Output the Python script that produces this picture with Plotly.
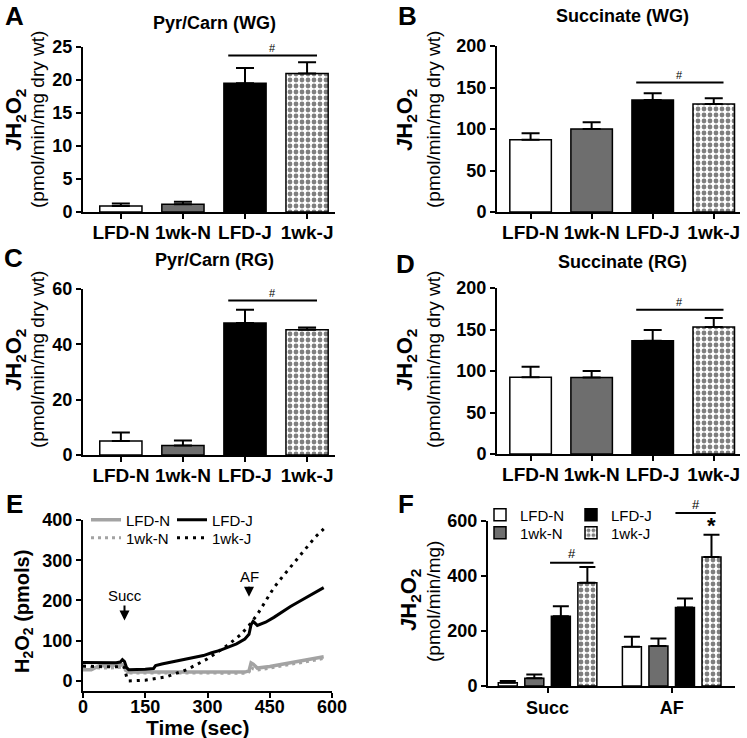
import plotly.graph_objects as go

W, H = 747, 738
FONT = "Liberation Sans, Arial, Helvetica, sans-serif"

# ---------------- data ----------------
groups = ["LFD-N", "1wk-N", "LFD-J", "1wk-J"]
bar_x = [0, 1, 2, 3]

a_vals = [0.9, 1.16, 19.5, 21.0]
a_err = [0.4, 0.4, 2.3, 1.7]
b_vals = [87, 100, 135, 130]
b_err = [8, 8, 8, 7]
c_vals = [5.1, 3.4, 47.7, 45.3]
c_err = [3.0, 1.8, 4.8, 0.8]
d_vals = [92.6, 92.2, 136.4, 153]
d_err = [12.4, 7.8, 12.9, 10.8]

sig_a = 23.7
sig_b = 156
sig_c = 55.8
sig_d = 173.8

# panel E time courses
e_ticks = [0, 150, 300, 450, 600]
t_lfdn = [0, 20, 30, 40, 60, 80, 95, 100, 105, 110, 150, 200, 250, 300, 350, 390, 400, 405, 410, 420, 450, 480, 510, 540, 560, 580]
y_lfdn = [28, 28, 33, 38, 38, 39, 40, 36, 25, 22, 22, 23, 22, 22, 21, 22, 25, 45, 42, 32, 36, 42, 47, 52, 56, 60]
t_1wkn = [0, 20, 40, 60, 80, 95, 100, 105, 110, 150, 200, 250, 300, 350, 395, 400, 405, 410, 420, 450, 480, 510, 540, 580]
y_1wkn = [35, 33, 32, 32, 33, 34, 30, 22, 20, 20, 21, 20, 20, 19, 19, 22, 35, 30, 27, 32, 38, 43, 48, 56]
t_lfdj = [0, 20, 40, 60, 80, 90, 95, 100, 105, 110, 130, 150, 170, 175, 190, 210, 230, 250, 270, 290, 310, 330, 350, 370, 390, 400, 405, 410, 420, 440, 460, 480, 500, 520, 540, 560, 580]
y_lfdj = [46, 46, 45, 46, 45, 47, 53, 48, 33, 28, 28, 29, 31, 38, 42, 46, 50, 54, 58, 63, 70, 76, 84, 92, 104, 116, 140, 148, 138, 146, 158, 172, 185, 197, 209, 220, 232]
t_1wkj = [0, 20, 40, 60, 80, 95, 100, 105, 110, 150, 200, 250, 300, 350, 380, 400, 420, 440, 460, 480, 500, 520, 540, 560, 580]
y_1wkj = [37, 36, 36, 35, 35, 36, 33, 10, 0, 2, 10, 28, 55, 90, 115, 138, 165, 200, 232, 258, 283, 310, 335, 358, 378]

# panel F
f_cats = ["Succ", "AF"]
f_x = [0, 1]
f_lfdn = [12, 143]
f_lfdn_err = [6, 36]
f_1wkn = [28, 145]
f_1wkn_err = [14, 28]
f_lfdj = [254, 285]
f_lfdj_err = [36, 33]
f_1wkj = [375, 469]
f_1wkj_err = [58, 81]
f_sig = [448, 629]
f_star = 584

# ---------------- geometry (page pixels) ----------------
# lab: companion label-axis id, lift: px offset of that label axis relative to the axis line
P = {
    "A": dict(x=(83, 335), y=(47, 212), yr=(0, 25), xr=(-0.61, 3.45), ax="", dt=5, lab="7", lift=-7),
    "B": dict(x=(497, 740), y=(46, 212), yr=(0, 200), xr=(-0.55, 3.43), ax="2", dt=50, lab="8", lift=-7),
    "C": dict(x=(83, 335), y=(289, 455), yr=(0, 60), xr=(-0.61, 3.45), ax="3", dt=20, lab="9", lift=-7),
    "D": dict(x=(497, 740), y=(288, 454), yr=(0, 200), xr=(-0.55, 3.43), ax="4", dt=50, lab="10", lift=-7),
    "E": dict(x=(83, 332), y=(520, 691), yr=(-25, 400), xr=(0, 600), ax="5", dt=100, lab="11", lift=-3),
    "F": dict(x=(488, 735), y=(521, 686), yr=(0, 600), xr=(-0.48, 1.51), ax="6", dt=200, lab="12", lift=-9),
}
TICKS = {"A": (bar_x, groups), "B": (bar_x, groups), "C": (bar_x, groups), "D": (bar_x, groups),
         "E": (e_ticks, [str(v) for v in e_ticks]), "F": (f_x, f_cats)}


def px(x):
    return x / W


def py(y):
    return 1 - y / H


def xdom(p):
    return [px(p["x"][0]), px(p["x"][1])]


def ydom(p):
    return [py(p["y"][1]), py(p["y"][0])]


def ypaper(p, v):
    r0, r1 = p["yr"]
    frac = (v - r0) / (r1 - r0)
    yy = p["y"][1] - frac * (p["y"][1] - p["y"][0])
    return py(yy)


CHECK = dict(shape=".", fgcolor="black", bgcolor="white", size=6, solidity=0.5, fillmode="overlay")

fig = go.Figure()

plain_colors = ["white", "#6e6e6e", "black"]

for key, vals, err in [("A", a_vals, a_err), ("B", b_vals, b_err),
                       ("C", c_vals, c_err), ("D", d_vals, d_err)]:
    p = P[key]
    fig.add_trace(go.Bar(
        x=bar_x[:3], y=vals[:3], width=0.68, offsetgroup="g",
        marker=dict(color=plain_colors, line=dict(color="black", width=1.5)),
        error_y=dict(type="data", array=err[:3], arrayminus=[0] * 3, symmetric=False,
                     color="black", thickness=2, width=9),
        xaxis="x" + p["ax"], yaxis="y" + p["ax"], showlegend=False,
    ))
    fig.add_trace(go.Bar(
        x=bar_x[3:], y=vals[3:], width=0.68, offsetgroup="g",
        marker=dict(color="white", line=dict(color="black", width=1.5), pattern=CHECK),
        error_y=dict(type="data", array=err[3:], arrayminus=[0], symmetric=False,
                     color="black", thickness=2, width=9),
        xaxis="x" + p["ax"], yaxis="y" + p["ax"], showlegend=False,
    ))

# Panel E lines
gray = "#a3a3a3"
fig.add_trace(go.Scatter(x=t_lfdn, y=y_lfdn, mode="lines", name="LFD-N",
                         line=dict(color=gray, width=3.5), xaxis="x5", yaxis="y5", legend="legend"))
fig.add_trace(go.Scatter(x=t_1wkn, y=y_1wkn, mode="lines", name="1wk-N",
                         line=dict(color=gray, width=3, dash="3px,4px"), xaxis="x5", yaxis="y5", legend="legend2"))
fig.add_trace(go.Scatter(x=t_lfdj, y=y_lfdj, mode="lines", name="LFD-J",
                         line=dict(color="black", width=3), xaxis="x5", yaxis="y5", legend="legend3"))
fig.add_trace(go.Scatter(x=t_1wkj, y=y_1wkj, mode="lines", name="1wk-J",
                         line=dict(color="black", width=3, dash="3px,5px"), xaxis="x5", yaxis="y5", legend="legend4"))

# Panel F bars
f_series = [("LFD-N", f_lfdn, f_lfdn_err, "white", None, "legend5"),
            ("1wk-N", f_1wkn, f_1wkn_err, "#6e6e6e", None, "legend6"),
            ("LFD-J", f_lfdj, f_lfdj_err, "black", None, "legend7"),
            ("1wk-J", f_1wkj, f_1wkj_err, "white", CHECK, "legend8")]
for name, vals, err, col, pat, lg in f_series:
    mk = dict(color=col, line=dict(color="black", width=1.5))
    if pat:
        mk["pattern"] = pat
    fig.add_trace(go.Bar(
        x=f_x, y=vals, name=name, marker=mk,
        error_y=dict(type="data", array=err, arrayminus=[0] * len(err), symmetric=False,
                     color="black", thickness=2, width=8),
        xaxis="x6", yaxis="y6", legend=lg,
    ))

# ---------------- axes ----------------
axis_common = dict(showline=True, linewidth=2, linecolor="black", ticks="outside",
                   ticklen=5, tickwidth=2, tickcolor="black", showgrid=False, zeroline=False,
                   fixedrange=True, automargin=False)
layout_axes = {}
for key, p in P.items():
    a = p["ax"]
    tv, tt = TICKS[key]
    fsize = 19 if key in "ABCD" else 18
    # main x axis: line + tick marks
    layout_axes["xaxis" + a] = dict(axis_common, domain=xdom(p), range=list(p["xr"]), anchor="y" + a,
                                    tickvals=tv, showticklabels=False)
    # companion axis carrying the tick labels, placed just under the axis line
    layout_axes["xaxis" + p["lab"]] = dict(
        overlaying="x" + a, anchor="free", position=py(p["y"][1] - p["lift"]),
        domain=xdom(p), range=list(p["xr"]), tickvals=tv, ticktext=tt,
        showline=False, ticks="", showgrid=False, zeroline=False, fixedrange=True, automargin=False,
        tickfont=dict(family=FONT, size=fsize, color="black", weight="bold"))
    fig.add_trace(go.Scatter(x=tv, y=[None] * len(tv), mode="markers", showlegend=False,
                             hoverinfo="skip", xaxis="x" + p["lab"], yaxis="y" + a))
    layout_axes["yaxis" + a] = dict(axis_common, domain=ydom(p), range=list(p["yr"]), anchor="x" + a,
                                    dtick=p["dt"], tick0=0,
                                    tickfont=dict(family=FONT, size=18, color="black", weight="bold"))

# ---------------- annotations & shapes ----------------
ann = []
shapes = []


def text(x, y, s, size, bold=False, angle=0, xanchor="center"):
    ann.append(dict(x=px(x), y=py(y), xref="paper", yref="paper", text=s, showarrow=False,
                    textangle=angle, xanchor=xanchor, yanchor="middle",
                    font=dict(family=FONT, size=size, color="black", weight="bold" if bold else "normal")))


# panel letters
for lt, (x, y) in {"A": (14, 16), "B": (407, 16), "C": (13, 258), "D": (405, 264),
                   "E": (14, 504), "F": (406, 504)}.items():
    text(x, y, lt, 26, bold=True)

# titles
text(214, 23, "Pyr/Carn (WG)", 18, bold=True)
text(622, 16, "Succinate (WG)", 18, bold=True)
text(214, 260, "Pyr/Carn (RG)", 18, bold=True)
text(622, 262, "Succinate (RG)", 18, bold=True)

JH = "<i>J</i>H<sub>2</sub>O<sub>2</sub>"
for (x1, x2, yc) in [(15, 37, 120), (406, 433, 120), (15, 37, 360), (406, 433, 360)]:
    text(x1, yc, JH, 22, bold=True, angle=-90)
    text(x2, yc, "(pmol/min/mg dry wt)", 19, angle=-90)
text(410, 600, JH, 22, bold=True, angle=-90)
text(433, 602, "(pmol/min/mg)", 19, angle=-90)
text(23, 612, "H<sub>2</sub>O<sub>2</sub> (pmols)", 20, bold=True, angle=-90)
text(198, 727, "Time (sec)", 21, bold=True)

# significance bars A-D
for key, lvl in [("A", sig_a), ("B", sig_b), ("C", sig_c), ("D", sig_d)]:
    p = P[key]
    yp = ypaper(p, lvl)
    shapes.append(dict(type="line", xref="x" + p["ax"], yref="paper", x0=1.73, x1=3.16, y0=yp, y1=yp,
                       line=dict(color="black", width=2)))
    ann.append(dict(x=2.445, y=yp + 8 / H, xref="x" + p["ax"], yref="paper", text="#", showarrow=False,
                    yanchor="middle", font=dict(family=FONT, size=11, color="black")))

# significance bars F
pf = P["F"]
for (x0, x1), lvl in zip([(0.02, 0.37), (1.03, 1.355)], f_sig):
    yp = ypaper(pf, lvl)
    shapes.append(dict(type="line", xref="x6", yref="paper", x0=x0, x1=x1, y0=yp, y1=yp,
                       line=dict(color="black", width=2)))
    ann.append(dict(x=(x0 + x1) / 2, y=yp + 9 / H, xref="x6", yref="paper", text="#", showarrow=False,
                    yanchor="middle", font=dict(family=FONT, size=13, color="black")))
ann.append(dict(x=1.32, y=ypaper(pf, f_star), xref="x6", yref="paper", text="*", showarrow=False,
                yanchor="middle", font=dict(family=FONT, size=22, color="black", weight="bold")))

# arrows in E
ann.append(dict(x=100, y=150, xref="x5", yref="y5", text="Succ", showarrow=True, arrowhead=2,
                arrowsize=1, arrowwidth=2, arrowcolor="black", ax=0, ay=-25, standoff=0,
                font=dict(family=FONT, size=15, color="black")))
ann.append(dict(x=400, y=209, xref="x5", yref="y5", text="AF", showarrow=True, arrowhead=2,
                arrowsize=1, arrowwidth=2, arrowcolor="black", ax=0, ay=-20, standoff=0,
                font=dict(family=FONT, size=15, color="black")))

legend_common = dict(bgcolor="rgba(0,0,0,0)", borderwidth=0, orientation="v", xanchor="left",
                     yanchor="middle", tracegroupgap=0, itemwidth=30,
                     font=dict(family=FONT, size=15, color="black"))
legend_pos = {
    "legend": (86, 520), "legend2": (86, 538), "legend3": (172, 520), "legend4": (172, 538),
    "legend5": (480, 515), "legend6": (480, 533), "legend7": (571, 515), "legend8": (571, 533),
}
legends = {k: dict(legend_common, x=px(x), y=py(y)) for k, (x, y) in legend_pos.items()}

fig.update_layout(
    width=W, height=H, margin=dict(l=0, r=0, t=0, b=0, autoexpand=False),
    paper_bgcolor="white", plot_bgcolor="white",
    font=dict(family=FONT, color="black"),
    barmode="group", bargap=0.145, bargroupgap=0.284,
    annotations=ann, shapes=shapes,
    **legends,
    **layout_axes,
)

fig.write_html("out.html", config={"displayModeBar": False},
               post_script="document.body.style.margin='0';document.body.style.overflow='hidden';")
